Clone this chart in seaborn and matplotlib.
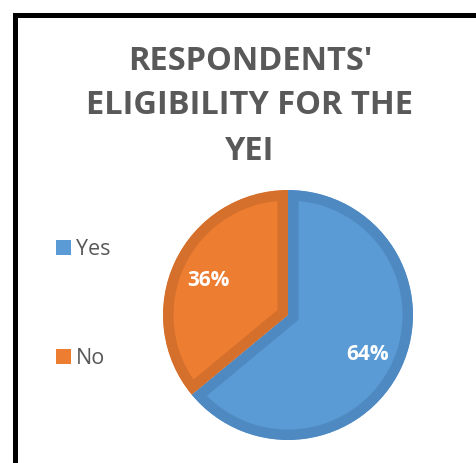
import matplotlib
matplotlib.use("Agg")
import matplotlib.pyplot as plt
from matplotlib.patches import Rectangle
import seaborn as sns

categories = ["Yes", "No"]
values = [64, 36]
title_lines = ["RESPONDENTS'", "ELIGIBILITY FOR THE", "YEI"]
fill_colors = ["#5B9BD5", "#ED7D31"]
edge_colors = ["#4F89C2", "#D5702C"]

sns.set_theme(style="white")
plt.rcParams['font.family'] = ['Open Sans', 'DejaVu Sans']

W, H = 476, 463
DPI = 100
fig = plt.figure(figsize=(W / DPI, H / DPI), dpi=DPI)
fig.patch.set_facecolor("white")

# pie axes: center (288, 315) px, radius 125 px
cx, cy, r = 288, 315, 125
ax = fig.add_axes([(cx - r) / W, (H - cy - r) / H, 2 * r / W, 2 * r / H])
wedges, texts, autotexts = ax.pie(
    values, labels=None, colors=fill_colors, startangle=90, counterclock=False,
    autopct=lambda p: f"{p:.0f}%", pctdistance=0.7, radius=1,
    textprops=dict(color="white", fontsize=15, fontweight="bold"),
)
for t in autotexts:
    t.set_va("center_baseline")
for w, ec in zip(wedges, edge_colors):
    w.set_edgecolor(ec)
    w.set_linewidth(21 * 72 / DPI)
    w.set_clip_on(True)
    w.set_clip_path(w)
ax.set_xlim(-1, 1)
ax.set_ylim(-1, 1)
ax.set_aspect("equal")
ax.axis("off")

# title
for line, ypx in zip(title_lines, [61, 106, 151]):
    fig.text(250 / W, 1 - ypx / H, line, ha="center", va="center",
             fontsize=23.5, fontweight="bold", color="#595959")

# legend
leg = fig.legend(wedges, categories, loc="center left",
                 bbox_to_anchor=(47 / W, 1 - 304 / H),
                 frameon=False, fontsize=15.5, labelcolor="#595959",
                 handlelength=0.7, handleheight=0.7, handletextpad=0.25,
                 labelspacing=4.1, borderaxespad=0)
for h in leg.legend_handles:
    h.set_linewidth(0)
    h.set_clip_path(None)

# black frame
fig.add_artist(Rectangle((14.5 / W, -0.1), 1.2, (H - 14.5) / H + 0.1,
                         transform=fig.transFigure, fill=False,
                         edgecolor="black", linewidth=5 * 72 / DPI))

fig.savefig("out.png", dpi=DPI)
